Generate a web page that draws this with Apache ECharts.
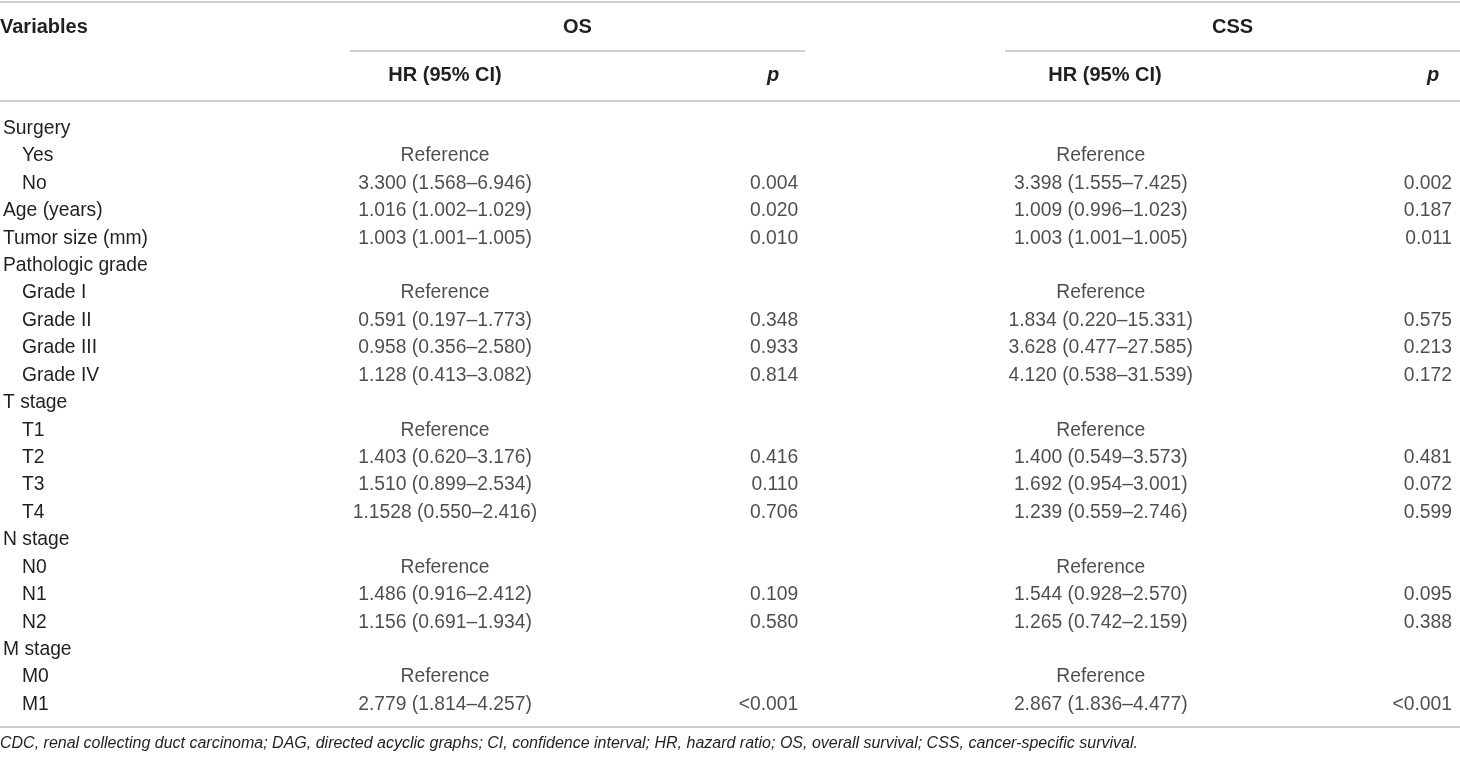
<!DOCTYPE html>
<html>
<head>
    <meta charset="UTF-8">
    <title>Multivariable Cox regression</title>
    <script src="https://cdn.jsdelivr.net/npm/echarts@6/dist/echarts.min.js"></script>
    <style>
        html, body {margin: 0; padding: 0; background: #fff;}
        #table-chart {width: 1460px; height: 757px;}
    </style>
</head>
<body>
<div id="table-chart"></div>
<script>
    // 表格数据
    var rows = ['Surgery', 'Yes', 'No', 'Age (years)', 'Tumor size (mm)', 'Pathologic grade',
        'Grade I', 'Grade II', 'Grade III', 'Grade IV', 'T stage', 'T1', 'T2', 'T3', 'T4',
        'N stage', 'N0', 'N1', 'N2', 'M stage', 'M0', 'M1'];
    var indent = [0, 1, 1, 0, 0, 0, 1, 1, 1, 1, 0, 1, 1, 1, 1, 0, 1, 1, 1, 0, 1, 1];

    var osHR = ['', 'Reference', '3.300 (1.568–6.946)', '1.016 (1.002–1.029)', '1.003 (1.001–1.005)', '',
        'Reference', '0.591 (0.197–1.773)', '0.958 (0.356–2.580)', '1.128 (0.413–3.082)', '',
        'Reference', '1.403 (0.620–3.176)', '1.510 (0.899–2.534)', '1.1528 (0.550–2.416)', '',
        'Reference', '1.486 (0.916–2.412)', '1.156 (0.691–1.934)', '',
        'Reference', '2.779 (1.814–4.257)'];
    var osP = ['', '', '0.004', '0.020', '0.010', '',
        '', '0.348', '0.933', '0.814', '',
        '', '0.416', '0.110', '0.706', '',
        '', '0.109', '0.580', '',
        '', '<0.001'];
    var cssHR = ['', 'Reference', '3.398 (1.555–7.425)', '1.009 (0.996–1.023)', '1.003 (1.001–1.005)', '',
        'Reference', '1.834 (0.220–15.331)', '3.628 (0.477–27.585)', '4.120 (0.538–31.539)', '',
        'Reference', '1.400 (0.549–3.573)', '1.692 (0.954–3.001)', '1.239 (0.559–2.746)', '',
        'Reference', '1.544 (0.928–2.570)', '1.265 (0.742–2.159)', '',
        'Reference', '2.867 (1.836–4.477)'];
    var cssP = ['', '', '0.002', '0.187', '0.011', '',
        '', '0.575', '0.213', '0.172', '',
        '', '0.481', '0.072', '0.599', '',
        '', '0.095', '0.388', '',
        '', '<0.001'];

    var groupHeaders = ['OS', 'CSS'];
    var subHeaders = ['HR (95% CI)', 'p'];
    var footnote = 'CDC, renal collecting duct carcinoma; DAG, directed acyclic graphs; CI, confidence interval; HR, hazard ratio; OS, overall survival; CSS, cancer-specific survival.';

    // 版式
    var W = 1460;
    var FONT = '"Liberation Sans", Arial, sans-serif';
    var FS = 19.3;
    var TXT = '#231f20';
    var LINE = '#9e9e9e';
    var col = {osHR: 441.5, osP: 796, cssHR: 1099.5, cssP: 1452};
    var grp = [{x1: 350, x2: 805, hr: 445, p: 773}, {x1: 1005, x2: 1460, hr: 1105, p: 1433}];

    var myChart = echarts.init(document.getElementById('table-chart'), null, {renderer: 'canvas'});

    function cellSeries(name, x, texts, align) {
        return {
            name: name,
            type: 'scatter',
            symbolSize: 0,
            silent: true,
            data: rows.map(function (r) { return [x, r]; }),
            label: {
                show: true,
                position: align == 'right' ? 'left' : 'inside',
                distance: 0,
                fontFamily: FONT,
                fontSize: FS,
                color: TXT,
                formatter: function (p) { return texts[p.dataIndex]; }
            }
        };
    }

    var graphics = [];
    // 横线
    [2, 101, 727].forEach(function (y) {
        graphics.push({type: 'line', shape: {x1: 0, y1: y, x2: W, y2: y}, style: {stroke: LINE, lineWidth: 1.2}});
    });
    grp.forEach(function (g, i) {
        graphics.push({type: 'line', shape: {x1: g.x1, y1: 51, x2: g.x2, y2: 51}, style: {stroke: LINE, lineWidth: 1.2}});
        graphics.push({type: 'text', x: (g.x1 + g.x2) / 2, y: 27, style: {text: groupHeaders[i], font: 'bold 20px ' + FONT, fill: TXT, align: 'center', verticalAlign: 'middle'}});
        graphics.push({type: 'text', x: g.hr, y: 75, style: {text: subHeaders[0], font: 'bold 20px ' + FONT, fill: TXT, align: 'center', verticalAlign: 'middle'}});
        graphics.push({type: 'text', x: g.p, y: 75, style: {text: subHeaders[1], font: 'italic bold 20px ' + FONT, fill: TXT, align: 'center', verticalAlign: 'middle'}});
    });
    graphics.push({type: 'text', x: 0, y: 27, style: {text: 'Variables', font: 'bold 20px ' + FONT, fill: TXT, align: 'left', verticalAlign: 'middle'}});
    graphics.push({type: 'text', x: 0, y: 744, style: {text: footnote, font: 'italic 16px ' + FONT, fill: TXT, align: 'left', verticalAlign: 'middle'}});

    var option = {
        backgroundColor: '#fff',
        animation: false,
        grid: {left: 0, right: 0, top: 114.8, height: 603.4},
        xAxis: {type: 'value', min: 0, max: W, show: false},
        yAxis: {
            type: 'category',
            data: rows,
            inverse: true,
            axisLine: {show: false},
            axisTick: {show: false},
            splitLine: {show: false},
            axisLabel: {
                inside: true,
                margin: -2,
                align: 'left',
                formatter: function (v, i) { return indent[i] ? '{sub|' + v + '}' : '{top|' + v + '}'; },
                rich: {
                    top: {fontFamily: FONT, fontSize: FS, color: TXT},
                    sub: {fontFamily: FONT, fontSize: FS, color: TXT, padding: [0, 0, 0, 19]}
                }
            }
        },
        series: [
            cellSeries('OS HR', col.osHR, osHR, 'center'),
            cellSeries('OS p', col.osP, osP, 'right'),
            cellSeries('CSS HR', col.cssHR, cssHR, 'center'),
            cellSeries('CSS p', col.cssP, cssP, 'right')
        ],
        graphic: graphics
    };
    myChart.setOption(option);
</script>
</body>
</html>
